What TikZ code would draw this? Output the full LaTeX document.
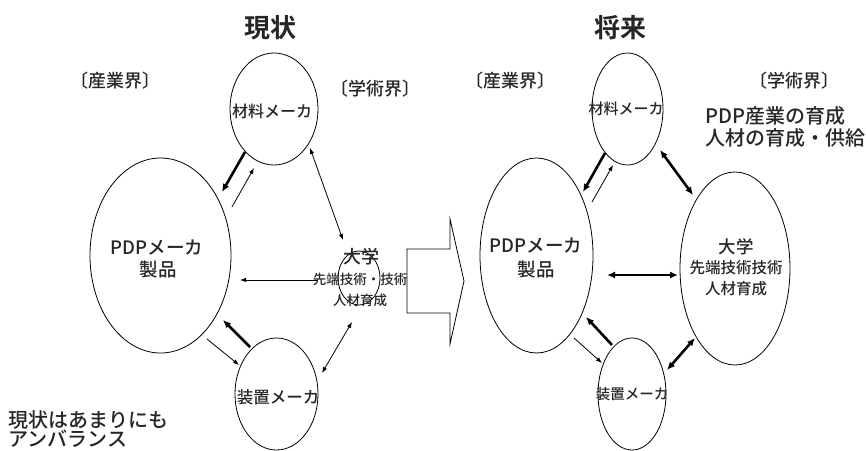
\documentclass[tikz,border=0pt]{standalone}
\usepackage{fontspec}
\setmainfont{Noto Sans CJK JP}[UprightFont={Noto Sans CJK JP Medium}, BoldFont={Noto Sans CJK JP Bold}]
\usetikzlibrary{shapes.geometric,arrows.meta}
\newcommand{\fs}[1]{\fontsize{#1}{#1}\selectfont}
\tikzset{
  ell/.style={ellipse, draw, line width=0.8pt, inner sep=0pt},
  lbl/.style={inner sep=0pt, anchor=center, text=black!85},
  thinar/.style={line width=0.8pt, -{Latex[length=6pt,width=4.5pt]}},
  thinbi/.style={line width=0.8pt, {Latex[length=6pt,width=4.5pt]}-{Latex[length=6pt,width=4.5pt]}},
  thickar/.style={line width=2.6pt, -{Latex[length=8pt,width=7pt]}},
  thickbi/.style={line width=2.6pt, {Latex[length=8pt,width=7pt]}-{Latex[length=8pt,width=7pt]}},
}
\begin{document}
\begin{tikzpicture}[x=1pt,y=-1pt]
\useasboundingbox (0,0) rectangle (866,450);
% ---------- left: current state ----------
\node[lbl, font=\fs{26}\bfseries] (tl) at (270,28) {現状};
\node[lbl, font=\fs{18}] (indL) at (115,81) {〔産業界〕};
\node[lbl, font=\fs{18}] (acaL) at (375,89) {〔学術界〕};

\node[ell, minimum width=88pt, minimum height=112pt] (matL) at (274,109) {};
\node[ell, minimum width=141pt, minimum height=195pt] (pdpL) at (160.5,255.5) {};
\node[ell, minimum width=83pt, minimum height=112pt] (eqL) at (276.5,394) {};
\node[ell, minimum width=42pt, minimum height=54pt] (uniL) at (359,278) {};

\node[lbl, font=\fs{16}] (matLt) at (272,111) {材料メーカ};
\node[lbl, font=\fs{18.5}] (pdpLt1) at (157,248) {PDPメーカ};
\node[lbl, font=\fs{18.5}] (pdpLt2) at (158,269) {製品};
\node[lbl, font=\fs{16.5}] (eqLt) at (278,397) {装置メーカ};
\node[lbl, font=\fs{18}] (uniLt1) at (361,257) {大学};
\node[lbl, font=\fs{13.5}] (uniLt2) at (360,279) {先端技術・技術};
\node[lbl, font=\fs{13.5}] (uniLt3) at (360,300) {人材育成};

\node[lbl, anchor=west, font=\fs{20}] (noteL1) at (8,420) {現状はあまりにも};
\node[lbl, anchor=west, font=\fs{20}] (noteL2) at (8,439) {アンバランス};

\coordinate (a1s) at (245,152); \coordinate (a1e) at (222,192);
\coordinate (a2s) at (232,207); \coordinate (a2e) at (254,168);
\coordinate (a3s) at (343,240); \coordinate (a3e) at (310,148);
\coordinate (a4s) at (317,280); \coordinate (a4e) at (240,280);
\coordinate (a5s) at (250,347); \coordinate (a5e) at (223,320);
\coordinate (a6s) at (207,339); \coordinate (a6e) at (239,365);
\coordinate (a7s) at (322,373); \coordinate (a7e) at (352,322);
\draw[thickar] (a1s) -- (a1e);
\draw[thinar] (a2s) -- (a2e);
\draw[thinbi] (a3s) -- (a3e);
\draw[thinar] (a4s) -- (a4e);
\draw[thickar] (a5s) -- (a5e);
\draw[thinar] (a6s) -- (a6e);
\draw[thinbi] (a7s) -- (a7e);

% ---------- big arrow ----------
\draw[line width=0.8pt, line join=miter] (407,249) -- (450,249) -- (450,219) -- (464,281)
  -- (450,344) -- (450,313) -- (407,313) -- cycle;

% ---------- right: future ----------
\node[lbl, font=\fs{26}\bfseries] (tr) at (620,28) {将来};
\node[lbl, font=\fs{18}] (indR) at (510,81) {〔産業界〕};
\node[lbl, font=\fs{18}] (acaR) at (794,81) {〔学術界〕};
\node[lbl, anchor=west, font=\fs{20}] (noteR1) at (705,116) {PDP産業の育成};
\node[lbl, anchor=west, font=\fs{20}] (noteR2) at (705,138) {人材の育成・供給};

\node[ell, minimum width=71pt, minimum height=112pt] (matR) at (627.5,109) {};
\node[ell, minimum width=113pt, minimum height=195pt] (pdpR) at (536.5,255.5) {};
\node[ell, minimum width=110pt, minimum height=193pt] (uniR) at (735,268.5) {};
\node[ell, minimum width=68pt, minimum height=112pt] (eqR) at (632,394) {};

\node[lbl, font=\fs{15}] (matRt) at (626,109) {材料メーカ};
\node[lbl, font=\fs{18.5}] (pdpRt1) at (536,246) {PDPメーカ};
\node[lbl, font=\fs{18.5}] (pdpRt2) at (536,269) {製品};
\node[lbl, font=\fs{17.5}] (uniRt1) at (736,247) {大学};
\node[lbl, font=\fs{15.5}] (uniRt2) at (736,268) {先端技術技術};
\node[lbl, font=\fs{15.5}] (uniRt3) at (736,289) {人材育成};
\node[lbl, font=\fs{14.5}] (eqRt) at (632,394) {装置メーカ};

\coordinate (b1s) at (605,153); \coordinate (b1e) at (583,192);
\coordinate (b2s) at (592,202); \coordinate (b2e) at (613,165);
\coordinate (b3s) at (660,150); \coordinate (b3e) at (693,195);
\coordinate (b4s) at (607,275); \coordinate (b4e) at (678,275);
\coordinate (b5s) at (612,345); \coordinate (b5e) at (586,317);
\coordinate (b6s) at (574,338); \coordinate (b6e) at (602,363);
\coordinate (b7s) at (667,370); \coordinate (b7e) at (695,338);
\draw[thickar] (b1s) -- (b1e);
\draw[thinar] (b2s) -- (b2e);
\draw[thickbi] (b3s) -- (b3e);
\draw[thickbi] (b4s) -- (b4e);
\draw[thickar] (b5s) -- (b5e);
\draw[thinar] (b6s) -- (b6e);
\draw[thickbi] (b7s) -- (b7e);
\end{tikzpicture}
\end{document}
